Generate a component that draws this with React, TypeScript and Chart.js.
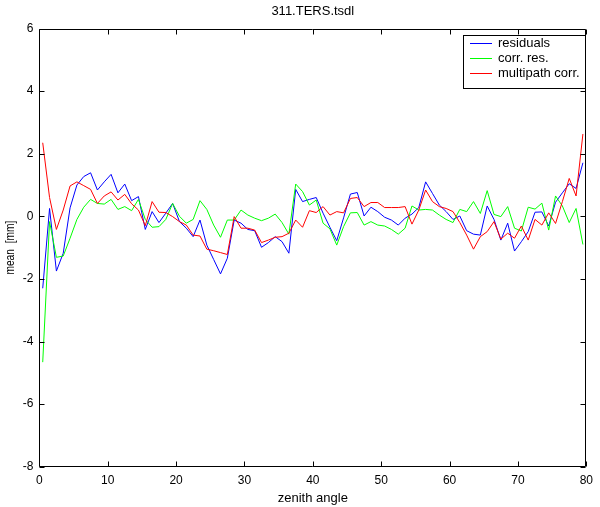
import React, { useEffect, useRef } from "react";
import { Chart, registerables } from "chart.js";

Chart.register(...registerables);

const TITLE = "311.TERS.tsdl";
const X_LABEL = "zenith angle";
const Y_LABEL = "mean  [mm]";
const SERIES_NAMES = ["residuals", "corr. res.", "multipath corr."];
const SERIES_COLORS = ["#0000ff", "#00ff00", "#ff0000"];
const X_TICKS = [0, 10, 20, 30, 40, 50, 60, 70, 80];
const Y_TICKS = [-8, -6, -4, -2, 0, 2, 4, 6];

const ANGLES = [
  0.5, 1.5, 2.5, 3.5, 4.5, 5.5, 6.5, 7.5, 8.5, 9.5,
  10.5, 11.5, 12.5, 13.5, 14.5, 15.5, 16.5, 17.5, 18.5, 19.5,
  20.5, 21.5, 22.5, 23.5, 24.5, 25.5, 26.5, 27.5, 28.5, 29.5,
  30.5, 31.5, 32.5, 33.5, 34.5, 35.5, 36.5, 37.5, 38.5, 39.5,
  40.5, 41.5, 42.5, 43.5, 44.5, 45.5, 46.5, 47.5, 48.5, 49.5,
  50.5, 51.5, 52.5, 53.5, 54.5, 55.5, 56.5, 57.5, 58.5, 59.5,
  60.5, 61.5, 62.5, 63.5, 64.5, 65.5, 66.5, 67.5, 68.5, 69.5,
  70.5, 71.5, 72.5, 73.5, 74.5, 75.5, 76.5, 77.5, 78.5, 79.5,
];

const RESIDUALS = [
  -2.3, 0.25, -1.75, -1.18, 0.27, 1.0, 1.27, 1.39, 0.84, 1.1,
  1.34, 0.75, 1.03, 0.5, 0.63, -0.42, 0.15, -0.2, 0.1, 0.41,
  -0.17, -0.38, -0.65, -0.12, -0.92, -1.38, -1.84, -1.34, -0.12, -0.22,
  -0.42, -0.46, -0.99, -0.84, -0.65, -0.81, -1.18, 0.86, 0.47, 0.54,
  0.6, 0.1, -0.35, -0.78, -0.05, 0.71, 0.76, 0.01, 0.29, 0.15,
  -0.03, -0.12, -0.28, -0.06, 0.07, 0.28, 1.1, 0.73, 0.36, 0.15,
  -0.1, 0.01, -0.46, -0.57, -0.6, 0.33, -0.1, -0.76, -0.22, -1.11,
  -0.81, -0.49, 0.13, 0.14, -0.31, 0.45, 0.75, 1.04, 0.89, 1.71,
];

const CORR_RES = [
  -4.66, -0.17, -1.31, -1.27, -0.7, -0.1, 0.29, 0.54, 0.41, 0.39,
  0.54, 0.22, 0.31, 0.18, 0.54, -0.1, -0.35, -0.33, -0.1, 0.41,
  0.0, -0.22, -0.1, 0.5, 0.22, -0.28, -0.67, -0.12, -0.12, 0.2,
  0.04, -0.06, -0.14, -0.06, 0.07, -0.2, -0.57, 1.03, 0.79, 0.36,
  0.52, -0.22, -0.4, -0.92, -0.33, 0.11, 0.12, -0.28, -0.17, -0.28,
  -0.31, -0.42, -0.57, -0.38, 0.33, 0.2, 0.22, 0.2, 0.04, -0.1,
  -0.2, 0.22, 0.15, 0.47, 0.09, 0.82, 0.06, -0.01, 0.31, -0.38,
  -0.47, 0.29, 0.23, 0.42, -0.44, 0.65, 0.33, -0.2, 0.25, -0.9,
];

const MULTIPATH = [
  2.35, 0.6, -0.42, 0.2, 0.97, 1.1, 0.98, 0.86, 0.41, 0.65,
  0.78, 0.52, 0.7, 0.4, 0.2, -0.3, 0.47, 0.13, 0.12, -0.01,
  -0.17, -0.28, -0.6, -0.63, -1.05, -1.1, -1.16, -1.22, -0.01, -0.38,
  -0.38, -0.44, -0.84, -0.76, -0.67, -0.65, -0.54, -0.12, -0.35, 0.18,
  0.12, 0.31, 0.04, 0.15, 0.11, 0.57, 0.6, 0.31, 0.44, 0.44,
  0.28, 0.28, 0.28, 0.31, -0.25, 0.2, 0.84, 0.47, 0.31, 0.25,
  0.15, -0.2, -0.6, -1.05, -0.65, -0.49, -0.17, -0.73, -0.54, -0.7,
  -0.31, -0.76, -0.1, -0.28, 0.11, -0.23, 0.47, 1.21, 0.65, 2.63,
];

const FONT = "'Liberation Sans', Helvetica, Arial, sans-serif";

const framePlugin = {
  id: "matlabFrame",
  afterDatasetsDraw(chart: any) {
    const { ctx, chartArea } = chart;
    const xs = chart.scales.x;
    const ys = chart.scales.y;
    const L = Math.round(chartArea.left) + 0.5;
    const R = Math.round(chartArea.right) - 0.5;
    const T = Math.round(chartArea.top) + 0.5;
    const B = Math.round(chartArea.bottom) - 0.5;
    const tl = 5;
    ctx.save();
    ctx.strokeStyle = "#000";
    ctx.lineWidth = 1;
    ctx.beginPath();
    ctx.rect(L, T, R - L, B - T);
    X_TICKS.forEach((v) => {
      const px = Math.round(xs.getPixelForValue(v)) + 0.5;
      ctx.moveTo(px, B);
      ctx.lineTo(px, B - tl);
      ctx.moveTo(px, T);
      ctx.lineTo(px, T + tl);
    });
    Y_TICKS.forEach((v) => {
      const py = Math.round(ys.getPixelForValue(v)) + 0.5;
      ctx.moveTo(L, py);
      ctx.lineTo(L + tl, py);
      ctx.moveTo(R, py);
      ctx.lineTo(R - tl, py);
    });
    ctx.stroke();
    ctx.restore();
  },
};

const yTitlePlugin = {
  id: "yTitle",
  afterDraw(chart: any) {
    const { ctx, chartArea } = chart;
    ctx.save();
    ctx.font = `13px ${FONT}`;
    const w = ctx.measureText(Y_LABEL).width;
    const target = 54;
    ctx.translate(10.5, (chartArea.top + chartArea.bottom) / 2);
    ctx.rotate(-Math.PI / 2);
    ctx.scale(target / w, 1);
    ctx.fillStyle = "#000";
    ctx.textAlign = "center";
    ctx.textBaseline = "middle";
    ctx.fillText(Y_LABEL, 0, 0);
    ctx.restore();
  },
};

const legendPlugin = {
  id: "matlabLegend",
  afterDraw(chart: any) {
    const { ctx } = chart;
    const bx = 463.5;
    const by = 35.5;
    const bw = 122;
    const bh = 53;
    ctx.save();
    ctx.fillStyle = "#fff";
    ctx.fillRect(bx, by, bw, bh);
    ctx.strokeStyle = "#000";
    ctx.lineWidth = 1;
    ctx.strokeRect(bx, by, bw, bh);
    ctx.font = `13px ${FONT}`;
    ctx.textBaseline = "middle";
    ctx.textAlign = "left";
    const rows = [43.5, 58.5, 73.5];
    SERIES_NAMES.forEach((name, i) => {
      const ry = rows[i];
      ctx.strokeStyle = SERIES_COLORS[i];
      ctx.beginPath();
      ctx.moveTo(470, ry);
      ctx.lineTo(492, ry);
      ctx.stroke();
      ctx.fillStyle = "#000";
      ctx.fillText(name, 498, ry);
    });
    ctx.restore();
  },
};

export default function App() {
  const ref = useRef<HTMLCanvasElement>(null);

  useEffect(() => {
    if (!ref.current) return;
    const series = [RESIDUALS, CORR_RES, MULTIPATH];
    const datasets = series.map((vals, i) => ({
      label: SERIES_NAMES[i],
      data: vals.map((v, j) => ({ x: ANGLES[j], y: v })),
      borderColor: SERIES_COLORS[i],
      backgroundColor: SERIES_COLORS[i],
      borderWidth: 1,
      pointRadius: 0,
      tension: 0,
      fill: false,
      order: 3 - i,
    }));
    const chart = new Chart(ref.current, {
      type: "line",
      data: { datasets: datasets as any },
      options: {
        animation: false,
        responsive: false,
        devicePixelRatio: 1,
        layout: { padding: { left: 0, right: 12.5, top: 0, bottom: 0 } },
        plugins: {
          legend: { display: false },
          tooltip: { enabled: false },
          title: {
            display: true,
            text: TITLE,
            fullSize: false,
            color: "#000",
            font: { family: FONT, size: 13, weight: "normal" },
            padding: { top: 4, bottom: 8.9 },
          },
        },
        scales: {
          x: {
            type: "linear",
            min: 0,
            max: 80,
            grid: { display: false, drawTicks: false },
            border: { display: false },
            afterFit: (s: any) => {
              s.height = 40.3;
            },
            afterBuildTicks: (s: any) => {
              s.ticks = X_TICKS.map((v) => ({ value: v }));
            },
            ticks: {
              color: "#000",
              padding: 7,
              maxRotation: 0,
              font: { family: FONT, size: 12 },
              callback: (v: any) => String(v),
            },
            title: {
              display: true,
              text: X_LABEL,
              color: "#000",
              font: { family: FONT, size: 13 },
              padding: { top: 0, bottom: 1.2 },
            },
          },
          y: {
            type: "linear",
            min: -8,
            max: 6,
            grid: { display: false, drawTicks: false },
            border: { display: false },
            afterFit: (s: any) => {
              s.width = 39.3;
            },
            afterBuildTicks: (s: any) => {
              s.ticks = Y_TICKS.map((v) => ({ value: v }));
            },
            ticks: {
              color: "#000",
              padding: 6,
              font: { family: FONT, size: 12 },
              callback: (v: any) => String(v),
            },
            title: { display: false },
          },
        },
      },
      plugins: [framePlugin, legendPlugin, yTitlePlugin],
    });
    return () => chart.destroy();
  }, []);

  return (
    <div style={{ position: "fixed", left: 0, top: 0, width: 600, height: 507, background: "#fff" }}>
      <canvas ref={ref} width={600} height={507} style={{ display: "block", width: 600, height: 507 }} />
    </div>
  );
}
